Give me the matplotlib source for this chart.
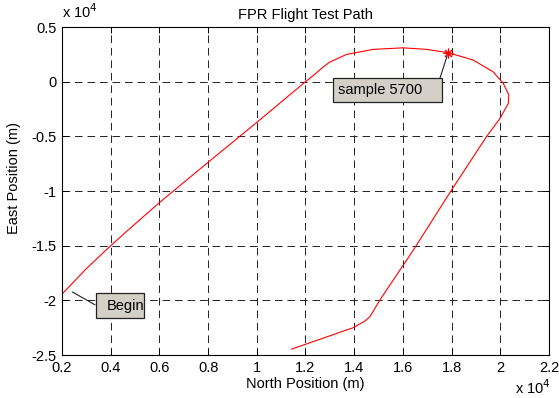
import matplotlib

matplotlib.use("Agg")
import matplotlib.pyplot as plt
from matplotlib.patches import Rectangle
from matplotlib.ticker import FuncFormatter

# flight path, metres
north = [2040, 3000, 4000, 4700, 6000, 8000, 10000, 12000, 12390, 12700,
         13000, 13690, 14780, 16000, 16980, 17870, 18890, 19710, 20120,
         20350, 20330, 19990, 19440, 18000, 16430, 15060, 14650, 14440,
         14240, 13960, 11430]
east = [-19340, -17100, -15000, -13600, -11060, -7370, -3720, 0, 700,
        1300, 1800, 2500, 2960, 3100, 2960, 2650, 1980, 900, -150, -1200,
        -1980, -3350, -5000, -9900, -15400, -19950, -21480, -21900,
        -22150, -22500, -24460]

sample_north = 17870
sample_east = 2650
sample_label = "sample 5700"
begin_label = "Begin"

x_ticks = [2000, 4000, 6000, 8000, 10000, 12000, 14000, 16000, 18000, 20000, 22000]
y_ticks = [5000, 0, -5000, -10000, -15000, -20000, -25000]

plt.rcParams["font.family"] = ["Liberation Sans", "DejaVu Sans"]
plt.rcParams["lines.scale_dashes"] = False

fig = plt.figure(figsize=(5.59, 3.98), dpi=100)
ax = fig.add_axes([0.1109, 0.108, 0.8712, 0.824])

ax.plot(north, east, color="red", lw=0.8)
ax.plot([sample_north], [sample_east], marker=(8, 2, 0), ms=7, mec="red",
        mew=0.8, ls="none")

ax.set_xlim(2000, 22000)
ax.set_ylim(-25000, 5000)
ax.set_xticks(x_ticks)
ax.set_yticks(y_ticks)
fmt = FuncFormatter(lambda v, p: "%g" % (v / 1e4))
ax.xaxis.set_major_formatter(fmt)
ax.yaxis.set_major_formatter(fmt)
ax.tick_params(direction="in", top=True, right=True, length=4, width=0.7,
               labelsize=10.5, colors="black", pad=4)
for s in ax.spines.values():
    s.set_linewidth(0.8)
ax.grid(True, color="#222222", lw=0.7, dashes=(5.5, 3.5))

ax.set_title("FPR Flight Test Path", fontsize=10.5, pad=6)
ax.set_xlabel("North Position (m)", fontsize=10.5, labelpad=2)
ax.set_ylabel("East Position (m)", fontsize=10.5)
ax.yaxis.set_label_coords(-0.085, 0.54)

# exponent labels
ax.text(0.0, 1.02, "x 10$^4$", transform=ax.transAxes, fontsize=10.5,
        ha="left", va="bottom")
fig.text(0.921, 0.027, "x 10$^4$", fontsize=10.5, ha="left", va="center")

# annotation boxes
box_kw = dict(facecolor="#d4d0c8", edgecolor="#222222", lw=0.9, zorder=5)
ax.add_patch(Rectangle((13120, -1880), 4470, 2190, **box_kw))
ax.text(13320, -785, sample_label, fontsize=10.5, ha="left", va="center",
        zorder=6)
ax.plot([17520, 17810], [310, 2320], color="#222222", lw=0.8, zorder=4)

ax.add_patch(Rectangle((3400, -21630), 1960, 2290, **box_kw))
ax.text(3820, -20480, begin_label, fontsize=10.5, ha="left", va="center",
        zorder=6)
ax.plot([2430, 3350], [-19240, -20400], color="#222222", lw=0.8, zorder=4)

fig.savefig("out.png", dpi=100)
